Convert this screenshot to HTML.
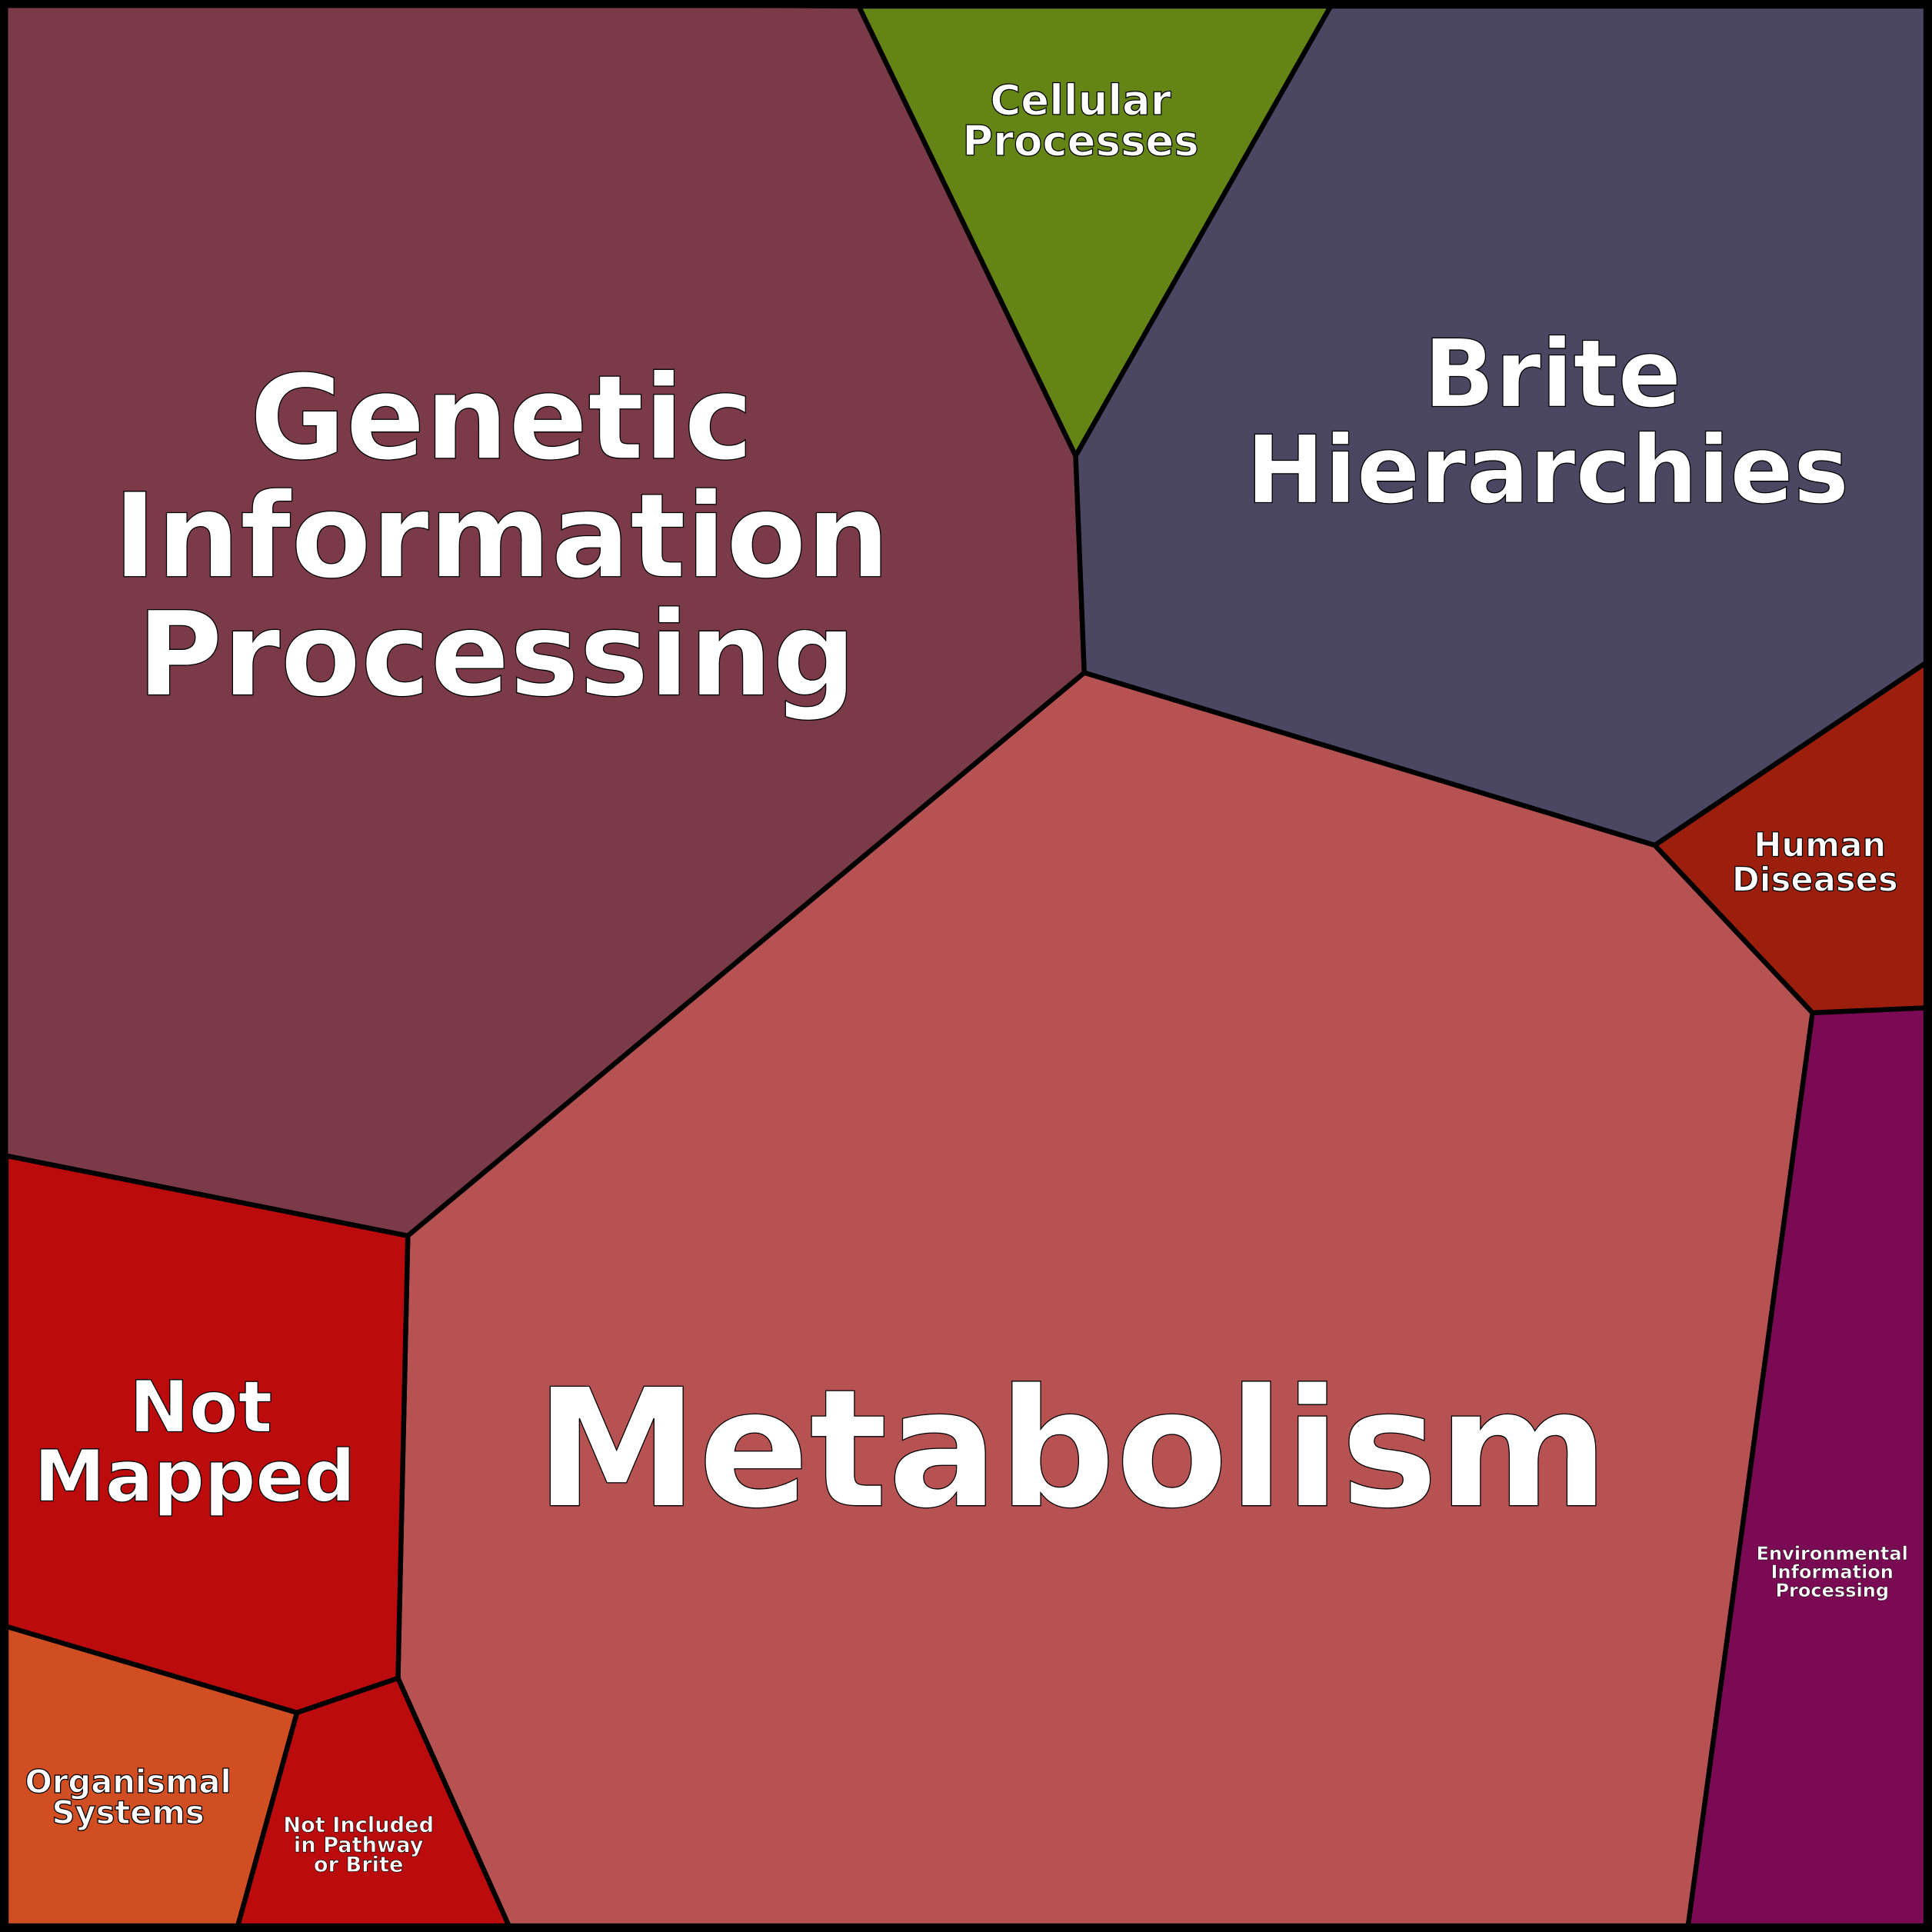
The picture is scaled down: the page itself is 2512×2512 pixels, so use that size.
<!DOCTYPE html>
<html><head><style>html,body{margin:0;padding:0;background:#000}svg{display:block}</style></head>
<body>
<svg width="2512" height="2512" viewBox="0 0 1568 1568" xmlns="http://www.w3.org/2000/svg">
<g stroke="#000" stroke-width="4" stroke-linejoin="round">
<polygon fill="#7b3a48" points="0,0 697,5 873,370 880,546 331,1003 5,938 0,938"/>
<polygon fill="#648515" points="697,5 1080,5 873,370"/>
<polygon fill="#4b4763" points="1080,5 1563,5 1563,538 1343,686 880,546 873,370"/>
<polygon fill="#9b1f0c" points="1563,538 1343,686 1471,822 1563,818"/>
<polygon fill="#7b0a55" points="1471,822 1563,818 1563,1563 1370,1563"/>
<polygon fill="#b65252" points="880,546 1343,686 1471,822 1370,1563 413,1563 323,1362 331,1003"/>
<polygon fill="#bc0b0c" points="5,938 331,1003 323,1362 241,1390 5,1320"/>
<polygon fill="#d04e22" points="5,1320 241,1390 193,1563 5,1563"/>
<polygon fill="#bc0b0c" points="241,1390 323,1362 413,1563 193,1563"/>
</g>
<rect x="3" y="3" width="1562" height="1562" fill="none" stroke="#000" stroke-width="7"/>
<g font-family="'DejaVu Sans','Liberation Sans',sans-serif" font-weight="bold" fill="#fff" stroke="#000" stroke-width="0.8" text-anchor="middle">
<text font-size="95" x="407" y="372">Genetic</text>
<text font-size="95" x="407" y="468">Information</text>
<text font-size="95" x="403" y="564">Processing</text>
<text font-size="34" x="877" y="93">Cellular</text>
<text font-size="34" x="877" y="126">Processes</text>
<text font-size="76" x="1260" y="330">Brite</text>
<text font-size="76" x="1256" y="408">Hierarchies</text>
<text font-size="133" x="870" y="1222">Metabolism</text>
<text font-size="58" x="163" y="1162">Not</text>
<text font-size="58" x="158" y="1218">Mapped</text>
<text font-size="27" x="1477" y="695">Human</text>
<text font-size="27" x="1473" y="723">Diseases</text>
<text font-size="26" x="104" y="1455">Organismal</text>
<text font-size="26" x="104" y="1480">Systems</text>
<text font-size="17" x="291" y="1487" stroke-width="0.4">Not Included</text>
<text font-size="17" x="291" y="1503" stroke-width="0.4">in Pathway</text>
<text font-size="17" x="291" y="1519" stroke-width="0.4">or Brite</text>
<text font-size="15" x="1487" y="1266" stroke-width="0.3">Environmental</text>
<text font-size="15" x="1487" y="1281" stroke-width="0.3">Information</text>
<text font-size="15" x="1487" y="1296" stroke-width="0.3">Processing</text>
</g>
</svg>
</body></html>
